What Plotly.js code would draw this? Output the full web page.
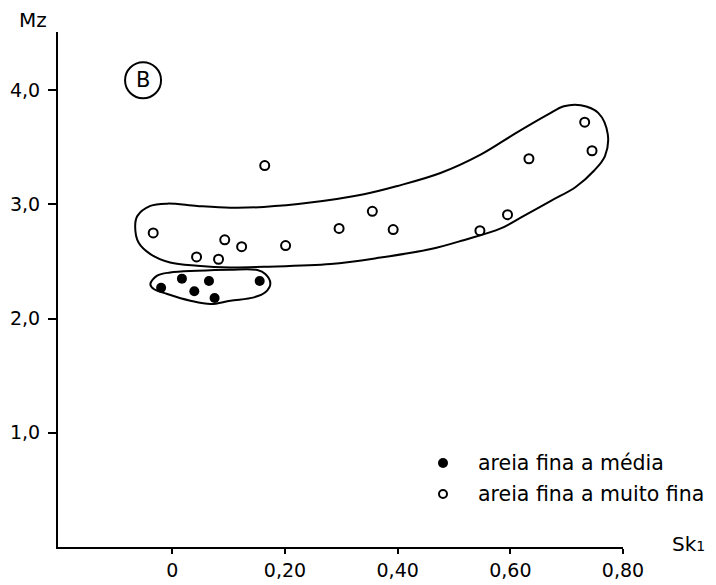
<!DOCTYPE html>
<html>
<head>
<meta charset="utf-8">
<script src="https://cdn.plot.ly/plotly-3.0.1.min.js"></script>
<style>html,body{margin:0;padding:0;background:#fff;}</style>
</head>
<body>
<div id="chart" style="width:716px;height:585px;"></div>
<script>
// ---- data (Sk1, Mz) ----
const mediaSk = [-0.020, 0.017, 0.065, 0.039, 0.075, 0.155];
const mediaMz = [2.27, 2.35, 2.33, 2.24, 2.18, 2.33];

const finaSk = [-0.034, 0.043, 0.082, 0.093, 0.123, 0.164, 0.201, 0.296, 0.355, 0.392, 0.546, 0.595, 0.633, 0.732, 0.745];
const finaMz = [2.75, 2.54, 2.52, 2.69, 2.63, 3.34, 2.64, 2.79, 2.94, 2.78, 2.77, 2.91, 3.40, 3.72, 3.47];

// envelope outlines (data units)
const bigEnvSk = [-0.066,-0.062,-0.039,-0.009,0.044,0.103,0.162,0.245,0.340,0.400,0.476,0.548,0.606,0.667,0.695,0.725,0.756,0.773,0.768,0.748,0.716,0.672,0.624,0.583,0.517,0.459,0.370,0.281,0.162,0.103,0.044,-0.004,-0.039,-0.060,-0.066];
const bigEnvMz = [2.812,2.900,2.987,3.007,2.987,2.972,2.978,3.016,3.089,3.162,3.275,3.438,3.613,3.788,3.860,3.869,3.802,3.613,3.424,3.293,3.153,3.031,2.900,2.790,2.687,2.609,2.535,2.478,2.454,2.448,2.463,2.492,2.565,2.666,2.812];
const smallEnvSk = [-0.039,-0.027,-0.004,0.044,0.103,0.151,0.165,0.174,0.165,0.145,0.103,0.068,0.032,-0.009,-0.033,-0.039];
const smallEnvMz = [2.303,2.376,2.404,2.419,2.428,2.425,2.390,2.308,2.230,2.186,2.157,2.128,2.157,2.216,2.259,2.303];

const xTickVals = [0, 0.2, 0.4, 0.6, 0.8];
const xTickText = ["0", "0,20", "0,40", "0,60", "0,80"];
const yTickVals = [1, 2, 3, 4];
const yTickText = ["1,0", "2,0", "3,0", "4,0"];

const seriesNames = ["areia fina a média", "areia fina a muito fina"];

const FONT = "'DejaVu Sans', sans-serif";

// plot-area geometry helpers (pixel -> paper)
const W = 716, H = 585, ML = 58, MR = 93, MT = 32, MB = 38;
const PW = W - ML - MR, PH = H - MT - MB;
const px = v => (v - ML) / PW;
const py = v => 1 - (v - MT) / PH;

const traces = [
  {x: bigEnvSk, y: bigEnvMz, mode: 'lines', line: {color: '#000', width: 2, shape: 'spline', smoothing: 1}, showlegend: false, hoverinfo: 'skip'},
  {x: smallEnvSk, y: smallEnvMz, mode: 'lines', line: {color: '#000', width: 2, shape: 'spline', smoothing: 1}, showlegend: false, hoverinfo: 'skip'},
  {x: mediaSk, y: mediaMz, mode: 'markers', name: seriesNames[0], showlegend: false,
   marker: {symbol: 'circle', size: 10, color: '#000', line: {color: '#000', width: 0}}},
  {x: finaSk, y: finaMz, mode: 'markers', name: seriesNames[1], showlegend: false,
   marker: {symbol: 'circle-open', size: 9, color: '#000', line: {color: '#000', width: 2}}}
];

const layout = {
  width: W, height: H,
  margin: {l: ML, r: MR, t: MT, b: MB},
  paper_bgcolor: '#fff', plot_bgcolor: '#fff',
  font: {family: FONT, size: 18, color: '#000'},
  showlegend: false,
  xaxis: {range: [-0.203, 0.80], showgrid: false, zeroline: false, showline: true, linecolor: '#000', linewidth: 2,
          ticks: 'outside', ticklen: 5, tickwidth: 2, tickcolor: '#000', ticklabelstandoff: 0,
          tickvals: xTickVals, ticktext: xTickText, tickfont: {family: FONT, size: 19, color: '#000'}},
  yaxis: {range: [0, 4.51], showgrid: false, zeroline: false, showline: true, linecolor: '#000', linewidth: 2,
          ticks: 'outside', ticklen: 8, tickwidth: 2, tickcolor: '#000', ticklabelstandoff: 4,
          tickvals: yTickVals, ticktext: yTickText, tickfont: {family: FONT, size: 19, color: '#000'}},
  shapes: [
    {type: 'circle', xref: 'x', yref: 'y', xsizemode: 'pixel', ysizemode: 'pixel',
     xanchor: -0.052, yanchor: 4.087, x0: -18, x1: 18, y0: -18, y1: 18,
     line: {color: '#000', width: 2}},
    // legend symbols
    {type: 'circle', xref: 'paper', yref: 'paper', xsizemode: 'pixel', ysizemode: 'pixel',
     xanchor: px(443), yanchor: py(463), x0: -5, x1: 5, y0: -5, y1: 5,
     fillcolor: '#000', line: {color: '#000', width: 0}},
    {type: 'circle', xref: 'paper', yref: 'paper', xsizemode: 'pixel', ysizemode: 'pixel',
     xanchor: px(443), yanchor: py(494), x0: -4, x1: 4, y0: -4, y1: 4,
     line: {color: '#000', width: 2}}
  ],
  annotations: [
    {x: -0.052, y: 4.087, xref: 'x', yref: 'y', text: 'B', showarrow: false,
     xanchor: 'center', yanchor: 'middle', font: {family: FONT, size: 21, color: '#000'}},
    {x: px(33), y: py(20), xref: 'paper', yref: 'paper', text: 'Mz', showarrow: false,
     xanchor: 'center', yanchor: 'middle', font: {family: FONT, size: 20, color: '#000'}},
    {x: px(670), y: py(544), xref: 'paper', yref: 'paper', text: "Sk<span style='font-size:14px'>1</span>", showarrow: false,
     xanchor: 'left', yanchor: 'middle', font: {family: FONT, size: 20, color: '#000'}},
    {x: px(476), y: py(463), xref: 'paper', yref: 'paper', text: seriesNames[0], showarrow: false,
     xanchor: 'left', yanchor: 'middle', font: {family: FONT, size: 20.5, color: '#000'}},
    {x: px(476), y: py(494), xref: 'paper', yref: 'paper', text: seriesNames[1], showarrow: false,
     xanchor: 'left', yanchor: 'middle', font: {family: FONT, size: 20.5, color: '#000'}}
  ]
};

Plotly.newPlot('chart', traces, layout, {displayModeBar: false, staticPlot: true});
</script>
</body>
</html>
